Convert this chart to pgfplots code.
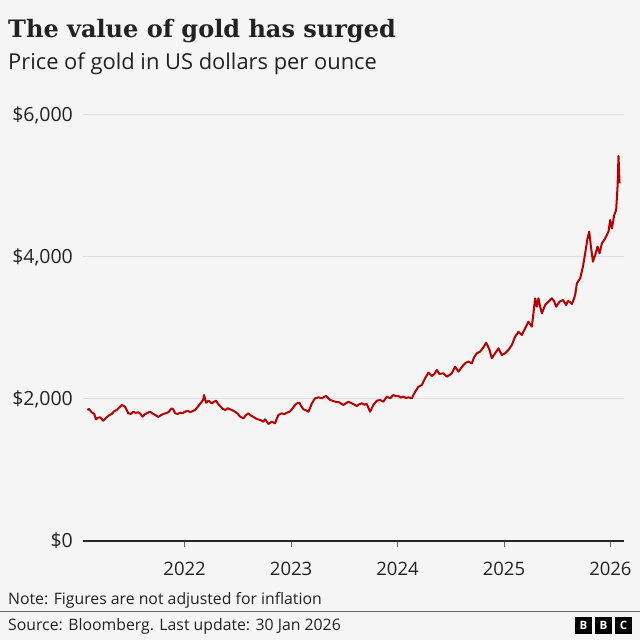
\documentclass[border=0pt]{standalone}
\usepackage{fontspec}
\setmainfont{Open Sans}
\newfontfamily\titlefont{DejaVu Serif}
\usepackage{pgfplots}
\pgfplotsset{compat=1.18}
\definecolor{bg}{HTML}{F5F5F5}
\definecolor{goldline}{HTML}{B80000}
\definecolor{gridc}{HTML}{DCDCDC}
\definecolor{txt}{HTML}{222222}

\begin{document}
\begin{tikzpicture}[x=1pt,y=1pt]
\fill[bg] (0,0) rectangle (640,640);
\useasboundingbox (0,0) rectangle (640,640);

% titles
\node[anchor=base west, inner sep=0pt, text=txt, font=\titlefont\bfseries\fontsize{24}{28}\selectfont] at (8,602) {The value of gold has surged};
\node[anchor=base west, inner sep=0pt, text=txt, font=\fontsize{21.9}{25}\selectfont] at (8,570) {Price of gold in US dollars per ounce};

\begin{axis}[
  at={(83pt,99pt)}, anchor=south west,
  scale only axis, width=540.6pt, height=426pt,
  xmin=2021.045, xmax=2026.124,
  ymin=0, ymax=6000,
  axis lines*=left,
  y axis line style={draw=none},
  x axis line style={draw=black!85, line width=1.6pt},
  xtick={2022,2023,2024,2025,2026},
  xticklabels={2022,2023,2024,2025,2026},
  ytick={0,2000,4000,6000},
  yticklabels={{\$0},{\$2,000},{\$4,000},{\$6,000}},
  tick align=outside,
  major tick length=6pt,
  xtick style={draw=black!60, line width=0.9pt},
  ytick style={draw=none},
  ymajorgrids,
  grid style={draw=gridc, line width=1pt},
  xticklabel style={anchor=base, inner sep=0pt, yshift=-28pt, text=txt, font=\fontsize{18.5}{20}\selectfont},
  yticklabel style={anchor=east, inner sep=0pt, xshift=-4pt, text=txt, font=\fontsize{19.5}{21}\selectfont},
  clip=false,
]
\addplot[goldline, line width=2pt, line join=round] coordinates {
(2021.086,1845) (2021.100,1860) (2021.127,1813) (2021.150,1790) (2021.167,1714) (2021.185,1735) (2021.205,1742) (2021.236,1694)
(2021.268,1742) (2021.290,1770) (2021.315,1789) (2021.340,1830) (2021.362,1845) (2021.385,1880) (2021.409,1916) (2021.440,1892)
(2021.471,1799) (2021.495,1790) (2021.518,1821) (2021.540,1805) (2021.565,1813) (2021.585,1790) (2021.606,1751) (2021.625,1785) (2021.644,1799)
(2021.675,1821) (2021.706,1789) (2021.730,1770) (2021.753,1747) (2021.775,1770) (2021.800,1789) (2021.825,1800) (2021.847,1813)
(2021.879,1869) (2021.895,1850) (2021.910,1799) (2021.935,1790) (2021.957,1807) (2021.980,1800) (2022.004,1821) (2022.030,1835) (2022.051,1813)
(2022.075,1830) (2022.098,1845) (2022.129,1901) (2022.161,1962) (2022.175,1990) (2022.182,2056) (2022.201,1948)
(2022.223,1976) (2022.255,1939) (2022.275,1960) (2022.295,1976) (2022.315,1930) (2022.333,1901) (2022.360,1860) (2022.380,1845)
(2022.405,1870) (2022.427,1855) (2022.450,1840) (2022.474,1821) (2022.500,1790) (2022.521,1751) (2022.552,1728) (2022.575,1770) (2022.599,1799)
(2022.620,1770) (2022.646,1747) (2022.675,1720) (2022.709,1704) (2022.740,1680) (2022.756,1714) (2022.787,1648)
(2022.819,1680) (2022.850,1658) (2022.865,1720) (2022.881,1775) (2022.913,1799) (2022.935,1785) (2022.960,1807) (2022.985,1820)
(2023.007,1855) (2023.030,1900) (2023.054,1939) (2023.078,1948) (2023.095,1900) (2023.116,1855) (2023.140,1840) (2023.163,1821)
(2023.180,1880) (2023.195,1939) (2023.226,2010) (2023.257,2024) (2023.289,2010) (2023.310,2030) (2023.329,2042)
(2023.367,1986) (2023.390,1975) (2023.414,1962) (2023.454,1953) (2023.475,1930) (2023.492,1916) (2023.515,1940) (2023.539,1962)
(2023.570,1939) (2023.595,1920) (2023.617,1901) (2023.640,1925) (2023.664,1939) (2023.690,1920) (2023.711,1930) (2023.742,1821)
(2023.773,1916) (2023.805,1976) (2023.836,1986) (2023.867,1962) (2023.899,2033)
(2023.930,2010) (2023.961,2056) (2023.985,2040) (2024.008,2042) (2024.030,2020) (2024.055,2033) (2024.080,2015) (2024.102,2024)
(2024.134,2010) (2024.165,2100) (2024.196,2173) (2024.228,2197) (2024.259,2292)
(2024.290,2370) (2024.322,2324) (2024.345,2350) (2024.369,2409) (2024.394,2352) (2024.431,2362)
(2024.463,2314) (2024.490,2340) (2024.510,2362) (2024.541,2455) (2024.572,2385) (2024.595,2430) (2024.619,2479)
(2024.640,2510) (2024.666,2526) (2024.698,2503) (2024.720,2590) (2024.745,2644) (2024.776,2667) (2024.807,2728)
(2024.833,2794) (2024.850,2740) (2024.864,2691) (2024.886,2574) (2024.917,2644) (2024.948,2714)
(2024.980,2620) (2025.011,2644) (2025.042,2691) (2025.074,2761) (2025.105,2878)
(2025.136,2948) (2025.168,2902) (2025.199,2996) (2025.230,3089) (2025.262,3019)
(2025.277,3207) (2025.293,3418) (2025.309,3300) (2025.324,3418) (2025.340,3300) (2025.356,3207)
(2025.387,3324) (2025.418,3371) (2025.450,3418) (2025.470,3380) (2025.491,3300) (2025.522,3371)
(2025.554,3394) (2025.585,3324) (2025.600,3380) (2025.616,3371) (2025.638,3338) (2025.655,3400) (2025.669,3465)
(2025.685,3630) (2025.716,3700) (2025.742,3864) (2025.763,4052) (2025.785,4263)
(2025.801,4357) (2025.817,4146) (2025.836,3934) (2025.857,4028) (2025.879,4146)
(2025.898,4052) (2025.920,4193) (2025.951,4263) (2025.982,4357) (2025.998,4521)
(2026.014,4404) (2026.036,4592) (2026.054,4662) (2026.067,4990) (2026.076,5423)
(2026.086,5038)
};
\end{axis}

% footer
\node[anchor=base west, inner sep=0pt, text=txt, font=\fontsize{15.8}{18}\selectfont] at (8,35) {Note: Figures are not adjusted for inflation};
\draw[black!60, line width=1pt] (0,28.5) -- (640,28.5);
\node[anchor=base west, inner sep=0pt, text=txt, font=\fontsize{15.8}{18}\selectfont] at (8,9.5) {Source: Bloomberg. Last update: 30 Jan 2026};
\foreach \xx/\ll in {575/B,595/B,615/C}{
  \fill[black] (\xx,6) rectangle ++(17,17);
  \node[text=white, inner sep=0pt, font=\bfseries\fontsize{11.5}{12}\selectfont] at (\xx+8.5,14.5) {\ll};
}
\end{tikzpicture}
\end{document}
